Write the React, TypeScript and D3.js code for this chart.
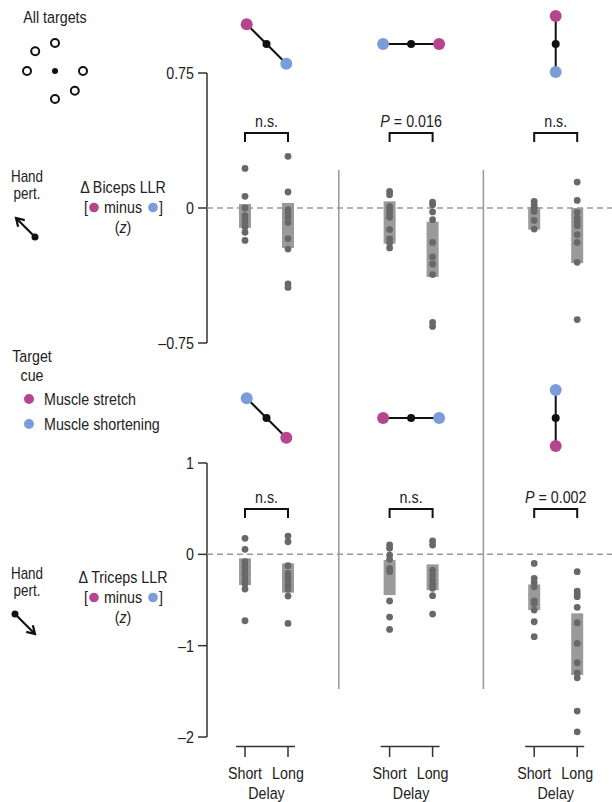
import React, { useEffect, useRef } from "react";
import * as d3 from "d3";

// values (z units)
const delays = ["Short", "Long"];
const bicepsTicks = [0.75, 0, -0.75];
const tricepsTicks = [1, 0, -1, -2];

const bicepsShort = [
  [0.22, 0.065, 0, -0.043, -0.065, -0.087, -0.105, -0.135, -0.18],
  [0.092, 0.074, 0.009, -0.009, -0.03, -0.052, -0.12, -0.172, -0.194, -0.222],
  [0.037, 0.018, 0.005, -0.019, -0.069, -0.117],
];
const bicepsLong = [
  [0.287, 0.089, -0.009, -0.028, -0.052, -0.08, -0.17, -0.228, -0.422, -0.441],
  [0.033, 0.018, -0.022, -0.065, -0.191, -0.272, -0.311, -0.37, -0.636, -0.658],
  [0.144, 0.042, -0.024, -0.056, -0.074, -0.098, -0.148, -0.191, -0.302, -0.62],
];
const bicepsShortBar = [[0.022, -0.11], [0.037, -0.198], [0.005, -0.12]];
const bicepsLongBar = [[0.028, -0.222], [-0.076, -0.383], [0, -0.306]];

const tricepsShort = [
  [0.175, 0.055, -0.081, -0.136, -0.19, -0.227, -0.281, -0.325, -0.38, -0.727],
  [0.102, 0.066, -0.008, -0.055, -0.153, -0.19, -0.511, -0.687, -0.822],
  [-0.099, -0.263, -0.307, -0.355, -0.511, -0.537, -0.61, -0.738, -0.902],
];
const tricepsLong = [
  [0.2, 0.138, -0.125, -0.208, -0.252, -0.292, -0.344, -0.383, -0.457, -0.756],
  [0.146, 0.102, -0.172, -0.227, -0.281, -0.329, -0.372, -0.453, -0.654],
  [-0.19, -0.402, -0.435, -0.464, -0.58, -0.749, -0.975, -1.187, -1.297, -1.352, -1.716, -1.943],
];
const tricepsShortBar = [[-0.044, -0.336], [-0.062, -0.446], [-0.329, -0.61]];
const tricepsLongBar = [[-0.099, -0.42], [-0.11, -0.391], [-0.646, -1.322]];

const bicepsP = ["n.s.", "0.016", "n.s."];
const tricepsP = ["n.s.", "n.s.", "0.002"];

// target directions (deg) of the stretch cue per column; shortening is opposite
const bicepsStretchAngle = [135, 0, 90];
const tricepsStretchAngle = [-45, 180, -90];
const allTargetAngles = [90, 135, 180, 0, -45, -90];

const MAGENTA = "#b5468d";
const BLUE = "#7b9bd9";
const FONT = "'Liberation Sans', Arial, sans-serif";

export default function App() {
  const ref = useRef<SVGSVGElement>(null);

  useEffect(() => {
    const svg = d3.select(ref.current);
    svg.selectAll("*").remove();

    const panelX = d3.scaleLinear().domain([0, 2]).range([266.5, 555.7]);
    const delayX = d3.scalePoint().domain(delays).range([-21.5, 21.5]);
    const xOf = (p: number, d: string) => panelX(p) + (delayX(d) as number);

    const yTop = d3.scaleLinear().domain([-0.75, 0.75]).range([343, 73]);
    const yBot = d3.scaleLinear().domain([-2, 1]).range([737, 463]);

    const g = svg.append("g").attr("font-family", FONT).attr("fill", "#222");

    // condensed-looking text: regular face squeezed horizontally
    const txt = (x: number, y: number, s: string | null, anchor = "middle", size = 17) => {
      const t = g.append("text")
        .attr("transform", `translate(${x},${y}) scale(0.84,1)`)
        .attr("text-anchor", anchor).attr("font-size", size);
      if (s !== null) t.text(s);
      return t;
    };

    // separators between columns
    [0.5, 1.5].forEach((p) => {
      g.append("line")
        .attr("x1", panelX(p)).attr("x2", panelX(p))
        .attr("y1", 170).attr("y2", 689)
        .attr("stroke", "#999").attr("stroke-width", 1.5);
    });

    const drawAxis = (y: d3.ScaleLinear<number, number>, ticks: number[], fmt: (v: number) => string) => {
      g.append("line")
        .attr("x1", 207).attr("x2", 207)
        .attr("y1", y(d3.max(ticks)!)).attr("y2", y(d3.min(ticks)!))
        .attr("stroke", "#333").attr("stroke-width", 1.5);
      ticks.forEach((t) => {
        g.append("line")
          .attr("x1", 198).attr("x2", 207)
          .attr("y1", y(t)).attr("y2", y(t))
          .attr("stroke", "#333").attr("stroke-width", 1.5);
        txt(194, y(t) + 6, (t < 0 ? "\u2013" : "") + fmt(Math.abs(t)), "end");
      });
      // zero line
      g.append("line")
        .attr("x1", 207).attr("x2", 612)
        .attr("y1", y(0)).attr("y2", y(0))
        .attr("stroke", "#999").attr("stroke-width", 1.5)
        .attr("stroke-dasharray", "6,4");
    };
    drawAxis(yTop, bicepsTicks, (v) => (v === 0 ? "0" : d3.format(".2f")(v)));
    drawAxis(yBot, tricepsTicks, (v) => String(v));

    const drawData = (
      y: d3.ScaleLinear<number, number>,
      shortV: number[][], longV: number[][],
      shortB: number[][], longB: number[][]
    ) => {
      [0, 1, 2].forEach((p) => {
        [[shortV, shortB, "Short"], [longV, longB, "Long"]].forEach(([vals, bars, d]: any) => {
          const x = xOf(p, d);
          const [hi, lo] = bars[p];
          g.append("rect")
            .attr("x", x - 6).attr("width", 12)
            .attr("y", y(hi)).attr("height", y(lo) - y(hi))
            .attr("fill", "#9a9a9a");
          g.selectAll(null).data(vals[p] as number[]).join("circle")
            .attr("cx", x).attr("cy", (v) => y(v)).attr("r", 3.4)
            .attr("fill", "#686868");
        });
      });
    };
    drawData(yTop, bicepsShort, bicepsLong, bicepsShortBar, bicepsLongBar);
    drawData(yBot, tricepsShort, tricepsLong, tricepsShortBar, tricepsLongBar);

    const drawBrackets = (labels: string[], yb: number) => {
      labels.forEach((lab, p) => {
        const x1 = xOf(p, "Short"), x2 = xOf(p, "Long");
        g.append("path")
          .attr("d", `M${x1},${yb + 9}V${yb}H${x2}V${yb + 9}`)
          .attr("fill", "none").attr("stroke", "#111").attr("stroke-width", 2);
        if (lab === "n.s.") txt(panelX(p), yb - 6, lab);
        else {
          const t = txt(panelX(p), yb - 6, null);
          t.append("tspan").attr("font-style", "italic").text("P");
          t.append("tspan").text(" = " + lab);
        }
      });
    };
    drawBrackets(bicepsP, 133);
    drawBrackets(tricepsP, 509);

    // target pair icons
    const drawIcons = (angles: number[], cy: number) => {
      angles.forEach((a, p) => {
        const cx = panelX(p);
        const r = 28, rad = (a * Math.PI) / 180;
        const sx = cx + r * Math.cos(rad), sy = cy - r * Math.sin(rad);
        const bx = cx - r * Math.cos(rad), by = cy + r * Math.sin(rad);
        g.append("line").attr("x1", sx).attr("y1", sy).attr("x2", bx).attr("y2", by)
          .attr("stroke", "#111").attr("stroke-width", 2);
        g.append("circle").attr("cx", sx).attr("cy", sy).attr("r", 6).attr("fill", MAGENTA);
        g.append("circle").attr("cx", bx).attr("cy", by).attr("r", 6).attr("fill", BLUE);
        g.append("circle").attr("cx", cx).attr("cy", cy).attr("r", 4).attr("fill", "#111");
      });
    };
    drawIcons(bicepsStretchAngle, 44);
    drawIcons(tricepsStretchAngle, 418);

    // x axis (delay)
    [0, 1, 2].forEach((p) => {
      const x1 = xOf(p, "Short"), x2 = xOf(p, "Long");
      g.append("line").attr("x1", x1 - 9).attr("x2", x2 + 7).attr("y1", 746.5).attr("y2", 746.5)
        .attr("stroke", "#333").attr("stroke-width", 1.5);
      delays.forEach((d) => {
        const x = xOf(p, d);
        g.append("line").attr("x1", x).attr("x2", x).attr("y1", 746.5).attr("y2", 757)
          .attr("stroke", "#333").attr("stroke-width", 1.5);
        txt(x, 779, d);
      });
      txt(panelX(p), 799, "Delay");
    });

    // all targets diagram
    txt(55, 23, "All targets");
    allTargetAngles.forEach((a) => {
      const rad = (a * Math.PI) / 180;
      g.append("circle").attr("cx", 55 + 28 * Math.cos(rad)).attr("cy", 71 - 28 * Math.sin(rad))
        .attr("r", 4).attr("fill", "white").attr("stroke", "#111").attr("stroke-width", 2);
    });
    g.append("circle").attr("cx", 55).attr("cy", 71).attr("r", 3).attr("fill", "#111");

    // left labels
    const arrow = (x0: number, y0: number, x1: number, y1: number) => {
      const ang = Math.atan2(y1 - y0, x1 - x0);
      const h = 9;
      const a1 = ang + Math.PI - 0.55, a2 = ang + Math.PI + 0.55;
      g.append("path")
        .attr("d", `M${x0},${y0}L${x1},${y1}M${x1 + h * Math.cos(a1)},${y1 + h * Math.sin(a1)}L${x1},${y1}L${x1 + h * Math.cos(a2)},${y1 + h * Math.sin(a2)}`)
        .attr("fill", "none").attr("stroke", "#111").attr("stroke-width", 2.2);
      g.append("circle").attr("cx", x0).attr("cy", y0).attr("r", 3.5).attr("fill", "#111");
    };
    const ylabel = (muscle: string, y0: number) => {
      txt(123, y0, "\u0394 " + muscle + " LLR");
      const y1 = y0 + 20;
      txt(84, y1, "[", "start");
      g.append("circle").attr("cx", 94).attr("cy", y1 - 5.5).attr("r", 4.8).attr("fill", MAGENTA);
      txt(123, y1, "minus");
      g.append("circle").attr("cx", 153).attr("cy", y1 - 5.5).attr("r", 4.8).attr("fill", BLUE);
      txt(159, y1, "]", "start");
      const z = txt(123, y1 + 20, null);
      z.append("tspan").text("(");
      z.append("tspan").attr("font-style", "italic").text("z");
      z.append("tspan").text(")");
    };

    txt(27, 182, "Hand", "middle", 16);
    txt(27, 199, "pert.", "middle", 16);
    arrow(35, 237, 16, 218);
    ylabel("Biceps", 193);

    txt(32, 362, "Target");
    txt(32, 381, "cue");
    g.append("circle").attr("cx", 29).attr("cy", 399).attr("r", 5).attr("fill", MAGENTA);
    txt(44, 405, "Muscle stretch", "start");
    g.append("circle").attr("cx", 29).attr("cy", 424).attr("r", 5).attr("fill", BLUE);
    txt(44, 430, "Muscle shortening", "start");

    txt(27, 579, "Hand", "middle", 16);
    txt(27, 596, "pert.", "middle", 16);
    arrow(15, 614, 35, 634);
    ylabel("Triceps", 583);
  }, []);

  return (
    <svg
      ref={ref}
      width={612}
      height={802}
      style={{ position: "absolute", left: 0, top: 0, background: "white" }}
    />
  );
}
